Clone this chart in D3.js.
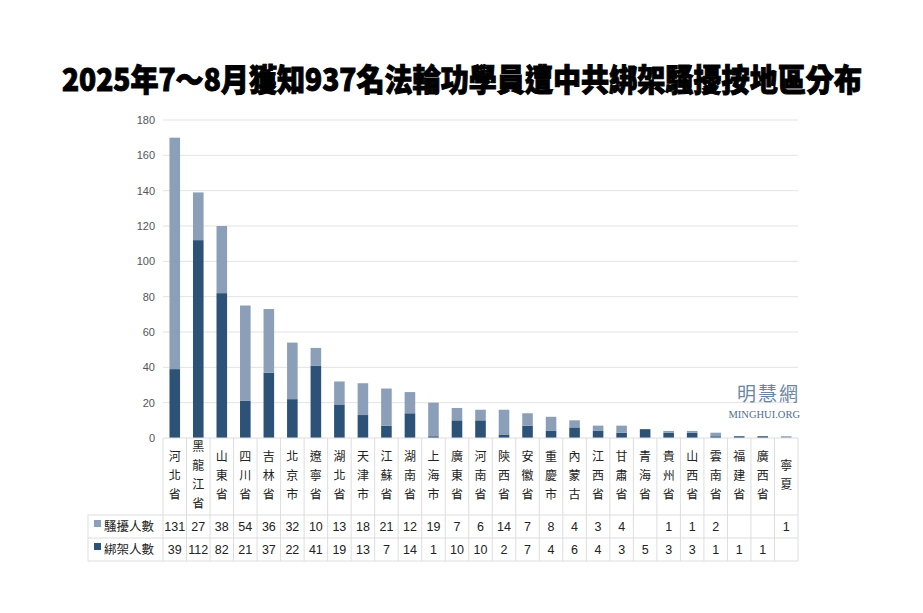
<!DOCTYPE html>
<html><head><meta charset="utf-8">
<script src="https://cdn.jsdelivr.net/npm/d3@7"></script>
<style>body{margin:0;background:#fff}svg{display:block}</style>
</head><body><svg id="c" width="923" height="613"></svg>
<script>
const categories = ["河北省","黑龍江省","山東省","四川省","吉林省","北京市","遼寧省","湖北省","天津市","江蘇省","湖南省","上海市","廣東省","河南省","陝西省","安徽省","重慶市","內蒙古","江西省","甘肅省","青海省","貴州省","山西省","雲南省","福建省","廣西省","寧夏"];
const kidnap = [39,112,82,21,37,22,41,19,13,7,14,1,10,10,2,7,4,6,4,3,5,3,3,1,1,1,null];
const harass = [131,27,38,54,36,32,10,13,18,21,12,19,7,6,14,7,8,4,3,4,null,1,1,2,null,null,1];
const seriesNames = ["騷擾人數","綁架人數"];
const yTicks = [0,20,40,60,80,100,120,140,160,180];
const title = "2025年7～8月獲知937名法輪功學員遭中共綁架騷擾按地區分布";

const C_K = "#2d5277", C_H = "#8c9fb9";
const svg = d3.select("#c");
const L = 163, R = 798, T = 120, B = 438;
const x = d3.scaleBand().domain(categories).range([L,R]).paddingInner(0.55).paddingOuter(0.275);
const xc = d3.scaleBand().domain(categories).range([L,R]);
const y = d3.scaleLinear().domain([0,180]).range([B,T]);
const font = "'Noto Sans CJK TC','Noto Sans CJK SC',sans-serif";

svg.append("text").attr("x",62).attr("y",91)
  .attr("textLength",800).attr("lengthAdjust","spacingAndGlyphs")
  .attr("font-family",font).attr("font-weight",900).attr("font-size",31)
  .attr("stroke","#000").attr("stroke-width",1).attr("fill","#000").text(title);

// grid
svg.append("g").selectAll("line").data(yTicks.slice(1)).join("line")
  .attr("x1",L).attr("x2",R).attr("y1",d=>y(d)).attr("y2",d=>y(d))
  .attr("stroke","#e3e3e3");
const ax = svg.append("g").attr("transform",`translate(${L-8},0)`)
  .call(d3.axisLeft(y).tickValues(yTicks).tickSize(0).tickPadding(0));
ax.select(".domain").remove();
ax.selectAll("text").attr("font-family","Liberation Sans,Arial").attr("font-size",11).attr("fill","#555");

// watermark
svg.append("text").attr("x",800).attr("y",401).attr("text-anchor","end").attr("font-family",font)
  .attr("font-size",19).attr("fill","#6a86a4").attr("letter-spacing",2).text("明慧網");
svg.append("text").attr("x",800).attr("y",418).attr("text-anchor","end").attr("font-family","Liberation Serif,serif")
  .attr("font-size",10.5).attr("fill","#4f6d8c").text("MINGHUI.ORG");

// bars
const g = svg.append("g");
categories.forEach((c,i)=>{
  const k = kidnap[i]||0, h = harass[i]||0;
  g.append("rect").attr("x",x(c)).attr("width",x.bandwidth()).attr("y",y(k)).attr("height",B-y(k)).attr("fill",C_K);
  g.append("rect").attr("x",x(c)).attr("width",x.bandwidth()).attr("y",y(k+h)).attr("height",y(k)-y(k+h)).attr("fill",C_H);
});
svg.append("line").attr("x1",L).attr("x2",R).attr("y1",B).attr("y2",B).attr("stroke","#ddd");

// table
const rowTop = 515, rowH = 23, tl = 88;
const tg = svg.append("g").attr("stroke","#ddd").attr("fill","none");
xc.domain().forEach(c=>{ tg.append("line").attr("x1",xc(c)).attr("x2",xc(c)).attr("y1",B).attr("y2",rowTop+2*rowH); });
tg.append("line").attr("x1",R).attr("x2",R).attr("y1",B).attr("y2",rowTop+2*rowH);
tg.append("line").attr("x1",tl).attr("x2",tl).attr("y1",rowTop).attr("y2",rowTop+2*rowH);
[0,1,2].forEach(j=>tg.append("line").attr("x1",tl).attr("x2",R).attr("y1",rowTop+j*rowH).attr("y2",rowTop+j*rowH));

categories.forEach(c=>{
  const chars = [...c], n = chars.length;
  const cx = xc(c)+xc.bandwidth()/2, mid = (B+rowTop)/2 - 2, lh = 19;
  chars.forEach((ch,j)=>{
    svg.append("text").attr("x",cx).attr("y",mid+(j-(n-1)/2)*lh+5).attr("text-anchor","middle")
      .attr("font-family",font).attr("font-size",12).attr("fill","#222").text(ch);
  });
});
[harass,kidnap].forEach((arr,r)=>{
  const yy = rowTop + r*rowH + rowH/2 + 4.5;
  svg.append("rect").attr("x",94).attr("y",yy-11).attr("width",7).attr("height",7).attr("fill",r?C_K:C_H);
  svg.append("text").attr("x",104).attr("y",yy).attr("font-family",font).attr("font-size",12.5).attr("fill","#222").text(seriesNames[r]);
  categories.forEach((c,i)=>{
    if(arr[i]==null) return;
    svg.append("text").attr("x",xc(c)+xc.bandwidth()/2).attr("y",yy).attr("text-anchor","middle")
      .attr("font-family","Liberation Sans,Arial").attr("font-size",12.5).attr("fill","#222").text(arr[i]);
  });
});
</script></body></html>
